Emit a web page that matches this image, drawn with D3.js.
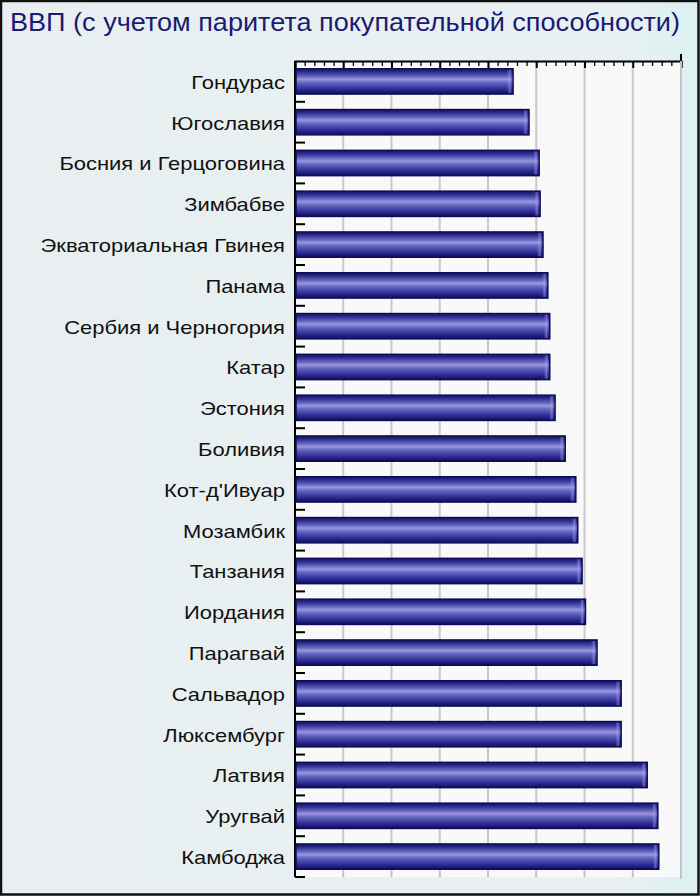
<!DOCTYPE html>
<html><head><meta charset="utf-8">
<script src="https://cdn.jsdelivr.net/npm/d3@7"></script>
<style>html,body{margin:0;padding:0;background:#fff}</style>
</head><body>
<svg id="chart" width="700" height="896"></svg>
<script>
const title = "ВВП (с учетом паритета покупательной способности)";
const countries = ["Гондурас","Югославия","Босния и Герцоговина","Зимбабве","Экваториальная Гвинея","Панама","Сербия и Черногория","Катар","Эстония","Боливия","Кот-д'Ивуар","Мозамбик","Танзания","Иордания","Парагвай","Сальвадор","Люксембург","Латвия","Уругвай","Камбоджа"];
const values = [4.52,4.85,5.06,5.08,5.14,5.24,5.28,5.28,5.39,5.60,5.82,5.86,5.95,6.02,6.26,6.76,6.76,7.30,7.52,7.54];
const xDomain = [0, 8];
const majorTicks = [0,1,2,3,4,5,6,7,8];

const svg = d3.select("#chart");
const W = 700, H = 896;
const m = {left:295, right:681, top:61, bottom:877};

const defs = svg.append("defs");
const bg = defs.append("linearGradient").attr("id","bg").attr("x1","0").attr("x2","1").attr("y1","0").attr("y2","0");
bg.append("stop").attr("offset","0").attr("stop-color","#e9eff0");
bg.append("stop").attr("offset","0.88").attr("stop-color","#e8f0f1");
bg.append("stop").attr("offset","1").attr("stop-color","#dcf1f1");
const bar = defs.append("linearGradient").attr("id","bar").attr("x1","0").attr("x2","0").attr("y1","0").attr("y2","1");
[[0,"#121266"],[0.12,"#2a2a8c"],[0.3,"#6464c0"],[0.42,"#9898de"],[0.55,"#6666c2"],[0.8,"#2e2e98"],[1,"#0e0e5a"]]
  .forEach(([o,c])=>bar.append("stop").attr("offset",o).attr("stop-color",c));
const endg = defs.append("linearGradient").attr("id","endg").attr("x1","0").attr("x2","1").attr("y1","0").attr("y2","0");
[[0,"rgba(160,160,240,0)"],[0.6,"rgba(170,170,245,0.5)"],[1,"rgba(20,20,100,0.3)"]]
  .forEach(([o,c])=>endg.append("stop").attr("offset",o).attr("stop-color",c));

svg.append("rect").attr("x",0).attr("y",0).attr("width",W).attr("height",H).attr("fill","url(#bg)");
svg.append("rect").attr("x",1).attr("y",1).attr("width",W-2.5).attr("height",H-2.5)
  .attr("fill","none").attr("stroke","#111").attr("stroke-width",2.5);

svg.append("text").attr("x",10).attr("y",31).text(title)
  .attr("font-family","'Liberation Sans',Arial,sans-serif")
  .attr("font-size",26).attr("fill","#1b1b72")
  .attr("textLength",670).attr("lengthAdjust","spacingAndGlyphs");

const x = d3.scaleLinear().domain(xDomain).range([m.left, m.right]);
const y = d3.scaleBand().domain(countries).range([m.top, m.bottom]).paddingInner(0.38).paddingOuter(0.19);
const yb = d3.scaleBand().domain(countries).range([m.top, m.bottom]);

svg.append("rect").attr("x",m.left).attr("y",m.top).attr("width",m.right-m.left).attr("height",m.bottom-m.top).attr("fill","#f9f9f9");

svg.append("g").selectAll("line").data(majorTicks.slice(1)).join("line")
  .attr("x1",d=>x(d)).attr("x2",d=>x(d)).attr("y1",m.top).attr("y2",m.bottom)
  .attr("stroke","#c9c9c9").attr("stroke-width",2);

const topAxis = d3.axisTop(x).tickValues(majorTicks).tickSize(-7).tickFormat("");
const gTop = svg.append("g").attr("transform",`translate(0,${m.top})`).call(topAxis);
gTop.select(".domain").attr("stroke","#000").attr("stroke-width",2);
gTop.selectAll(".tick line").attr("stroke","#000").attr("stroke-width",2);
const minor = d3.range(0, 8.0001, 0.2).filter(v=>Math.abs(v-Math.round(v))>0.01);
const minorAxis = d3.axisTop(x).tickValues(minor).tickSize(-5).tickFormat("");
const gMin = svg.append("g").attr("transform",`translate(0,${m.top})`).call(minorAxis);
gMin.select(".domain").remove();
gMin.selectAll(".tick line").attr("stroke","#000").attr("stroke-width",1.3);

svg.append("g").selectAll("line").data(majorTicks.slice(1,-1)).join("line")
  .attr("x1",d=>x(d)).attr("x2",d=>x(d)).attr("y1",m.bottom-4).attr("y2",m.bottom)
  .attr("stroke","#bbb").attr("stroke-width",1);

svg.append("line").attr("x1",m.left).attr("x2",m.left).attr("y1",m.top).attr("y2",m.bottom)
  .attr("stroke","#000").attr("stroke-width",2);
const bounds = countries.map(c=>yb(c)+yb.bandwidth());
svg.append("g").selectAll("line").data(bounds).join("line")
  .attr("x1",m.left).attr("x2",m.left+10).attr("y1",d=>d).attr("y2",d=>d)
  .attr("stroke","#000").attr("stroke-width",2);
svg.append("line").attr("x1",m.right).attr("x2",m.right).attr("y1",m.top).attr("y2",m.bottom+2)
  .attr("stroke","#c4c4c4").attr("stroke-width",2);
svg.append("line").attr("x1",m.right).attr("x2",m.right).attr("y1",m.top-7).attr("y2",m.top)
  .attr("stroke","#000").attr("stroke-width",2);

const gb = svg.append("g");
gb.selectAll("rect.b").data(countries).join("rect").attr("class","b")
  .attr("x",m.left+1).attr("y",d=>y(d)).attr("height",y.bandwidth())
  .attr("width",(d,i)=>x(values[i])-m.left-1)
  .attr("fill","url(#bar)").attr("stroke","#0c0c58").attr("stroke-width",1.5);
gb.selectAll("rect.e").data(countries).join("rect").attr("class","e")
  .attr("x",(d,i)=>x(values[i])-6).attr("y",d=>y(d)+1).attr("height",y.bandwidth()-2)
  .attr("width",5).attr("fill","url(#endg)");

svg.append("g").selectAll("text").data(countries).join("text")
  .attr("transform",d=>`translate(285,${yb(d)+yb.bandwidth()/2+1}) scale(1.22,1)`)
  .attr("x",0).attr("y",0).attr("dy","0.35em")
  .attr("text-anchor","end").attr("font-family","'Liberation Sans',Arial,sans-serif")
  .attr("font-size",18).attr("fill","#111").text(d=>d);
</script>
</body></html>
